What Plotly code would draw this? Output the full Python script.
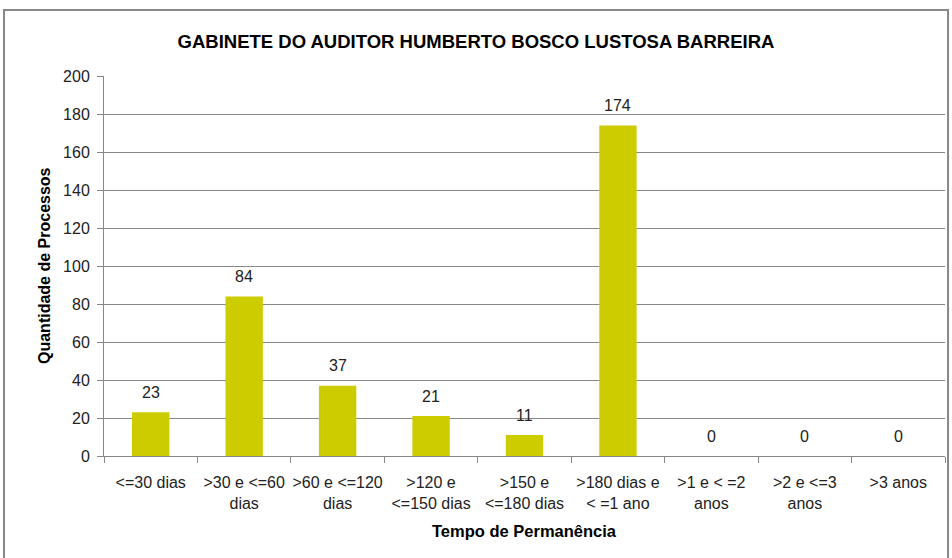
import plotly.graph_objects as go

categories = ["<=30 dias", ">30 e <=60<br>dias", ">60 e <=120<br>dias", ">120 e<br><=150 dias",
              ">150 e<br><=180 dias", ">180 dias e<br>< =1 ano", ">1 e < =2<br>anos", ">2 e <=3<br>anos", ">3 anos"]
values = [23, 84, 37, 21, 11, 174, 0, 0, 0]
y_ticks = [0, 20, 40, 60, 80, 100, 120, 140, 160, 180, 200]

FONT = "Liberation Sans, Arial, sans-serif"

fig = go.Figure(go.Bar(
    x=categories, y=values, marker_color="#CCCC00", marker_line_width=0, hoverinfo="skip",
))

for c, v in zip(categories, values):
    fig.add_annotation(x=c, y=v, text=str(v), showarrow=False, yanchor="middle", yshift=20,
                       font=dict(size=16, color="#222", family=FONT))

fig.update_layout(
    width=952, height=558, paper_bgcolor="white", plot_bgcolor="white",
    margin=dict(l=104, r=7, t=76, b=102),
    bargap=0.6, showlegend=False,
    font=dict(family=FONT, size=16, color="#222"),
    title=dict(text="<b>GABINETE DO AUDITOR HUMBERTO BOSCO LUSTOSA BARREIRA</b>",
               x=0.5, xanchor="center", y=0.925, yanchor="middle",
               font=dict(size=18.5, color="#000", family=FONT)),
    xaxis=dict(showline=True, linecolor="#888", linewidth=1, ticks="outside", tickson="boundaries",
               ticklen=6, tickcolor="#888", tickfont=dict(size=16, color="#222"), tickangle=0,
               automargin=False, ticklabelstandoff=12),
    yaxis=dict(range=[0, 200], tickvals=y_ticks, showline=True, linecolor="#888", linewidth=1,
               showgrid=True, gridcolor="#888", gridwidth=1, ticks="outside", ticklen=6, tickcolor="#888",
               tickfont=dict(size=16, color="#222"), zeroline=False, automargin=False,
               ticklabelstandoff=4),
    shapes=[dict(type="rect", xref="paper", yref="paper", x0=-0.1189, x1=1.0036, y0=-0.28, y1=1.1737,
                 line=dict(color="#888", width=2), fillcolor="rgba(0,0,0,0)", layer="below")],
)
fig.add_annotation(xref="paper", yref="paper", x=0.5, y=(456 - 531) / 380, yanchor="middle",
                   text="<b>Tempo de Permanência</b>", showarrow=False,
                   font=dict(size=16.5, color="#000", family=FONT))
fig.add_annotation(xref="paper", yref="paper", x=(44 - 104) / 841, y=0.5, xanchor="center",
                   text="<b>Quantidade de Processos</b>", showarrow=False, textangle=-90,
                   font=dict(size=16, color="#000", family=FONT))

fig.write_html("out.html", config={"displayModeBar": False},
               post_script="document.body.style.margin='0';document.body.style.overflow='hidden';")
